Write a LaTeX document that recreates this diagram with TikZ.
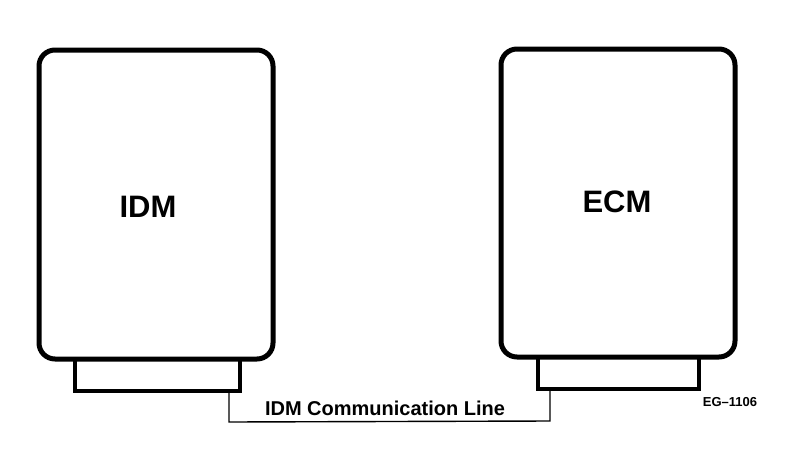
\documentclass[tikz,border=0pt]{standalone}
\usepackage{fontspec}
\setmainfont{Liberation Sans}
\begin{document}
\begin{tikzpicture}[x=1pt,y=-1pt,
  unitbox/.style={draw=black,line width=5pt,rounded corners=16pt,fill=white},
  plugbox/.style={draw=black,line width=4.2pt,fill=white},
  wire/.style={draw=black,line width=1.4pt},
  big/.style={font=\fontsize{31}{36}\selectfont\bfseries},
  mid/.style={font=\fontsize{20}{23}\selectfont\bfseries},
  small/.style={font=\fontsize{13}{15}\selectfont\bfseries}]
\useasboundingbox (0,0) rectangle (800,466);
\fill[white] (0,0) rectangle (800,466);
% connectors (behind boxes)
\draw[plugbox] (75,345) rectangle (240,391);
\draw[plugbox] (538,343) rectangle (699,389);
\coordinate (pl) at (229,393);
\coordinate (pr) at (550,391);
% boxes
\draw[unitbox] (39,50) rectangle (273,359);
\draw[unitbox] (501,49) rectangle (735,357);
\node[big] (idm) at (148,207) {IDM};
\node[big] (ecm) at (617,202) {ECM};
% communication line
\coordinate (bl) at (229,422);
\coordinate (br) at (550,421);
\draw[wire] (pl) -- (bl) -- (br) -- (pr);
\node[mid] (lbl) at (385,408) {IDM Communication Line};
\node[small] (eg) at (730,402) {EG–1106};
\end{tikzpicture}
\end{document}
